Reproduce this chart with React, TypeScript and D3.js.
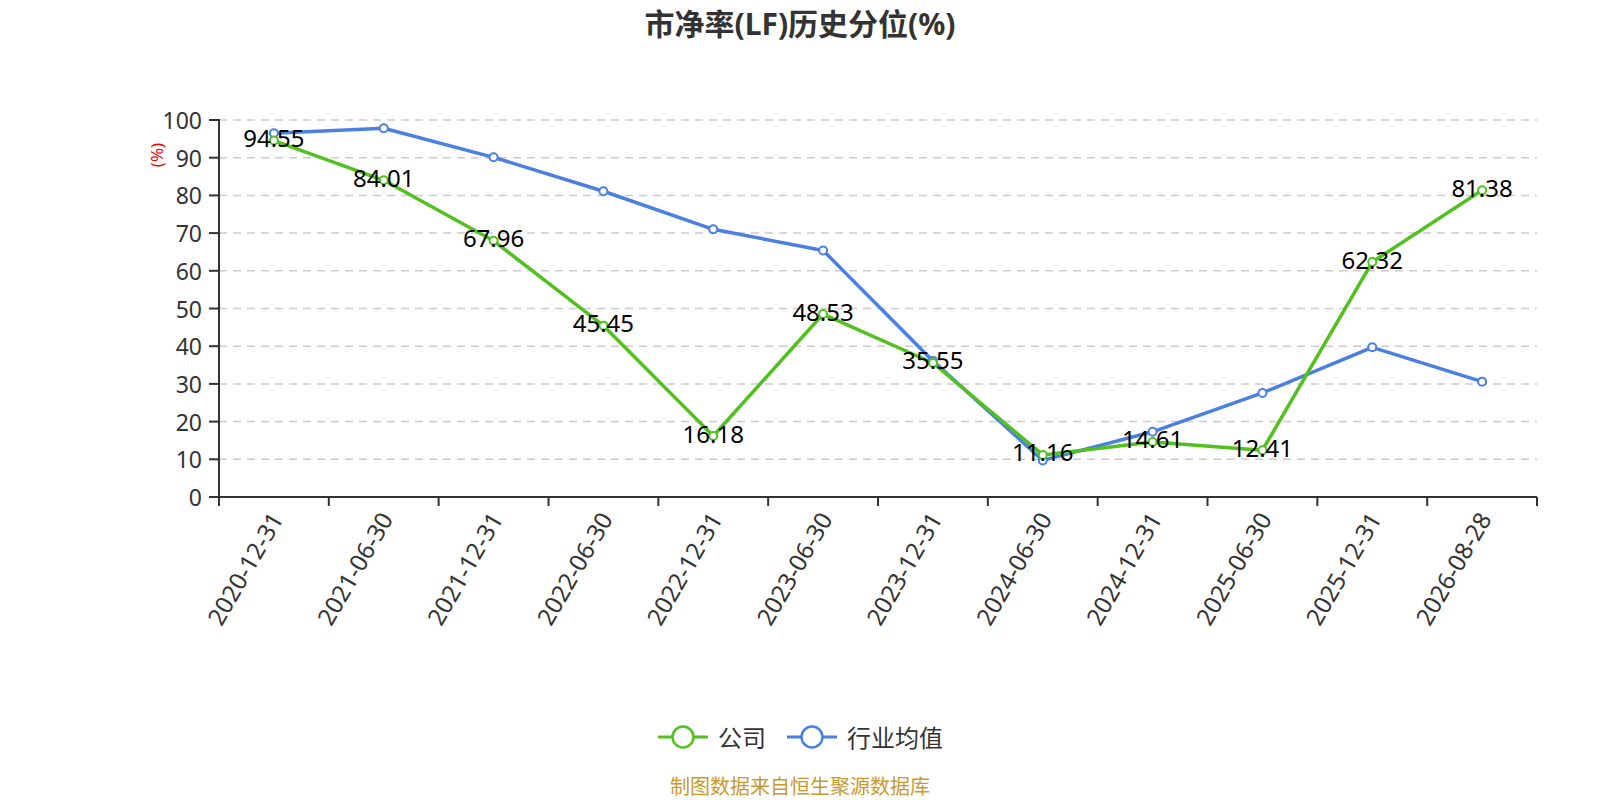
import React from "react";
import * as d3 from "d3";

const categories = [
  "2020-12-31", "2021-06-30", "2021-12-31", "2022-06-30", "2022-12-31", "2023-06-30",
  "2023-12-31", "2024-06-30", "2024-12-31", "2025-06-30", "2025-12-31", "2026-08-28",
];
const companyValues = [94.55, 84.01, 67.96, 45.45, 16.18, 48.53, 35.55, 11.16, 14.61, 12.41, 62.32, 81.38];
const industryValues = [96.5, 97.8, 90.1, 81.1, 71.0, 65.4, 36.1, 9.7, 17.3, 27.6, 39.7, 30.6];
const yTicks = [0, 10, 20, 30, 40, 50, 60, 70, 80, 90, 100];
const seriesNames = ["公司", "行业均值"];
const titleText = "市净率(LF)历史分位(%)";
const footerText = "制图数据来自恒生聚源数据库";

const GREEN = "#52c11f";
const BLUE = "#4b7fe0";
const FONT = '"Noto Sans", "Noto Sans CJK SC", sans-serif';

export default function App() {
  const W = 1600, H = 800;
  const left = 219, right = 1537, top = 120, bottom = 497;
  const x = d3.scaleBand<string>().domain(categories).range([left, right]);
  const y = d3.scaleLinear().domain([0, 100]).range([bottom, top]);
  const cx = (c: string) => (x(c) as number) + x.bandwidth() / 2;
  const line = d3.line<number>().x((_, i) => cx(categories[i])).y((v) => y(v));
  const boundaries = d3.range(categories.length + 1).map((i) => left + i * x.bandwidth());

  return (
    <div style={{ position: "absolute", left: 0, top: 0 }}>
      <svg width={W} height={H} style={{ display: "block", fontFamily: FONT }}>
        <rect width={W} height={H} fill="#fff" />
        <text x={800} y={23} textAnchor="middle" dominantBaseline="central" fontSize={30} fontWeight="bold" fill="#333">
          {titleText}
        </text>
        {/* grid */}
        {yTicks.filter((t) => t > 0).map((t) => (
          <line key={t} x1={left} x2={right} y1={y(t)} y2={y(t)} stroke="#ccc" strokeWidth={1.5} strokeDasharray="8 6" />
        ))}
        {/* y axis */}
        <line x1={left} x2={left} y1={top - 1} y2={bottom} stroke="#333" strokeWidth={2} />
        {yTicks.map((t) => (
          <g key={t}>
            <line x1={left - 10} x2={left} y1={y(t)} y2={y(t)} stroke="#333" strokeWidth={2} />
            <text x={left - 17} y={y(t)} textAnchor="end" dominantBaseline="central" fontSize={23} fill="#333">
              {t}
            </text>
          </g>
        ))}
        <text transform={`translate(156,155) rotate(-90)`} textAnchor="middle" dominantBaseline="central" fontSize={17} fill="red">
          (%)
        </text>
        {/* x axis */}
        <line x1={left} x2={right} y1={bottom} y2={bottom} stroke="#333" strokeWidth={2} />
        {boundaries.map((b, i) => (
          <line key={i} x1={b} x2={b} y1={bottom} y2={bottom + 9} stroke="#333" strokeWidth={2} />
        ))}
        {categories.map((c) => (
          <text key={c} transform={`translate(${cx(c) + 2},${bottom + 17}) rotate(-60)`} textAnchor="end" dominantBaseline="central" fontSize={24} fill="#333">
            {c}
          </text>
        ))}
        {/* lines */}
        <path d={line(industryValues) as string} fill="none" stroke={BLUE} strokeWidth={3.5} strokeLinejoin="round" />
        <path d={line(companyValues) as string} fill="none" stroke={GREEN} strokeWidth={3.5} strokeLinejoin="round" />
        {industryValues.map((v, i) => (
          <circle key={"b" + i} cx={cx(categories[i])} cy={y(v)} r={4} fill="#fff" stroke={BLUE} strokeWidth={2} />
        ))}
        {companyValues.map((v, i) => (
          <circle key={"g" + i} cx={cx(categories[i])} cy={y(v)} r={4} fill="#fff" stroke={GREEN} strokeWidth={2} />
        ))}
        {companyValues.map((v, i) => (
          <text key={"l" + i} x={cx(categories[i])} y={y(v) - 3} textAnchor="middle" dominantBaseline="central" fontSize={24} fill="#000">
            {v.toFixed(2)}
          </text>
        ))}
        {/* legend */}
        {[GREEN, BLUE].map((col, i) => {
          const lx = i === 0 ? 658 : 787;
          return (
            <g key={i}>
              <line x1={lx} x2={lx + 50} y1={737} y2={737} stroke={col} strokeWidth={3} />
              <circle cx={lx + 25} cy={737} r={10.5} fill="#fff" stroke={col} strokeWidth={2.5} />
              <text x={lx + 60} y={737} dominantBaseline="central" fontSize={24} fill="#333">
                {seriesNames[i]}
              </text>
            </g>
          );
        })}
        <text x={800} y={786} textAnchor="middle" dominantBaseline="central" fontSize={20} fill="#c99a2e">
          {footerText}
        </text>
      </svg>
    </div>
  );
}
